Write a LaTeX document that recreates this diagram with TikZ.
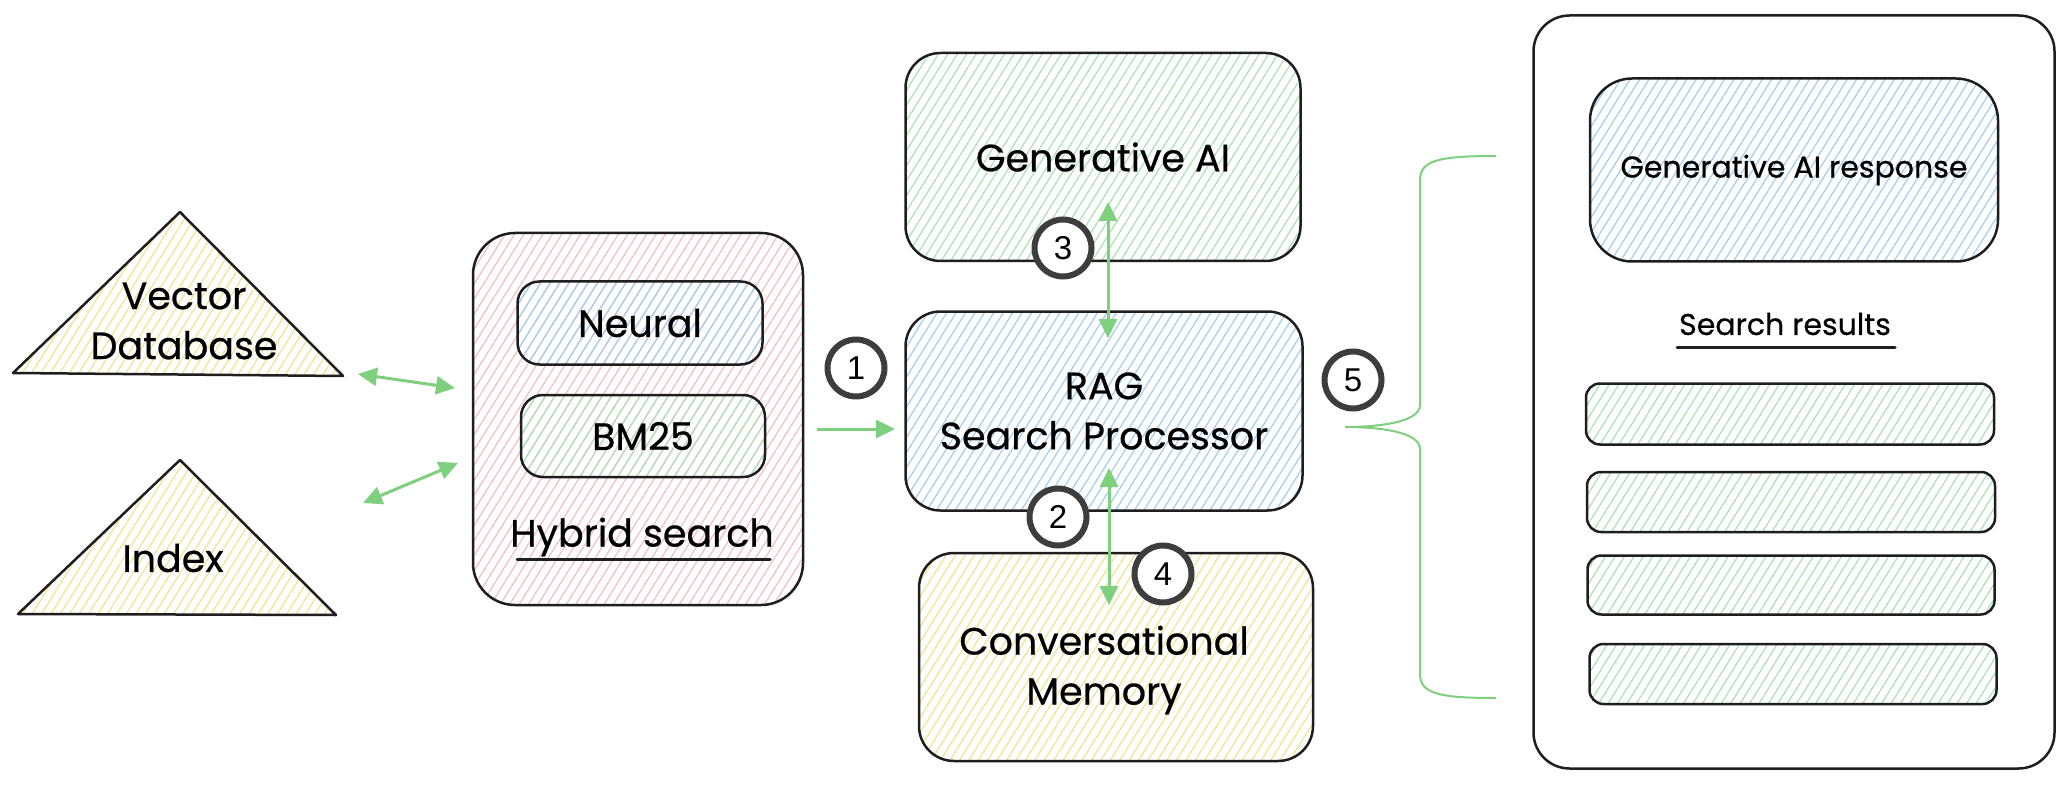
\documentclass[tikz,border=0pt]{standalone}
\usepackage{fontspec}
\setmainfont{Poppins}[FakeBold=0.6]
\newfontfamily\numfont{Liberation Sans}
\usetikzlibrary{arrows.meta,patterns.meta}

\definecolor{inkblack}{HTML}{1E1E1E}
\definecolor{numgray}{HTML}{3D3D3D}
\definecolor{flowgreen}{HTML}{7ECF7E}
\definecolor{hatchgreen}{HTML}{AEE4B4}
\definecolor{hatchblue}{HTML}{A6CFF2}
\definecolor{hatchyellow}{HTML}{F2E497}
\definecolor{hatchpink}{HTML}{F4C0C3}

\newcommand\biglabel{\fontsize{38}{50}\selectfont}
\newcommand\smalllabel{\fontsize{30}{38}\selectfont}

\tikzset{
  sketch/.style={draw=inkblack, line width=2.5pt, rounded corners=#1, inner sep=0pt, align=center, font=\biglabel},
  sketch/.default=35pt,
  hatch/.style={pattern={Lines[angle=58,distance=8pt,line width=1.3pt]}, pattern color=#1},
  tri/.style={draw=inkblack, line width=2.5pt, line join=round},
  txt/.style={inner sep=0pt, align=center, font=\biglabel},
  stepnum/.style={circle, draw=numgray, line width=6pt, fill=white, minimum size=57pt, inner sep=0pt, font=\numfont\fontsize{33}{33}\selectfont},
  flow/.style={draw=flowgreen, line width=3pt, >={Triangle[length=19pt,width=18pt]}},
  fanout/.style={draw=flowgreen, line width=2pt},
  underrule/.style={draw=inkblack, line width=3pt, line cap=round}
}

\begin{document}
\begin{tikzpicture}[x=1pt, y=-1pt]
\useasboundingbox (0,0) rectangle (2066,786);

% Sources
\draw[tri, hatch=hatchyellow] (13,373) -- (180,212) -- (343,376) -- cycle;
\node[txt] (vdb) at (184,321) {Vector\\Database};
\draw[tri, hatch=hatchyellow] (18,614) -- (180,460) -- (336,615) -- cycle;
\node[txt] (index) at (173,558) {Index};

% Hybrid search
\node[sketch=42pt, hatch=hatchpink, minimum width=330pt, minimum height=372pt] (hybrid) at (638,419) {};
\node[sketch=22pt, hatch=hatchblue, minimum width=245pt, minimum height=83pt] (neural) at (640,323) {Neural};
\node[sketch=22pt, hatch=hatchgreen, minimum width=244pt, minimum height=82pt] (bm25) at (643,436) {BM25};
\node[txt] (hyblabel) at (642,537) {Hybrid search};
\draw[underrule] (517,559) -- (770,559);

% Processing
\node[sketch, hatch=hatchgreen, minimum width=395pt, minimum height=208pt] (genai) at (1103,157) {Generative AI};
\node[sketch, hatch=hatchblue, minimum width=397pt, minimum height=199pt] (rag) at (1104,411) {RAG\\Search Processor};
\node[sketch, hatch=hatchyellow, minimum width=394pt, minimum height=208pt] (memory) at (1116,657) {};
\node[txt] (memlabel) at (1104,670) {Conversational\\Memory};

% Results page
\node[sketch=36pt, minimum width=521pt, minimum height=753pt] (panel) at (1794,392) {};
\node[sketch=42pt, hatch=hatchblue, minimum width=408pt, minimum height=183pt, font=\smalllabel] (response) at (1794,170) {Generative AI response};
\node[txt, font=\smalllabel] (srlabel) at (1785,324) {Search results};
\draw[underrule] (1677,347) -- (1895,347);
\node[sketch=14pt, hatch=hatchgreen, minimum width=408pt, minimum height=61pt] (res1) at (1790,414) {};
\node[sketch=14pt, hatch=hatchgreen, minimum width=408pt, minimum height=60pt] (res2) at (1791,502) {};
\node[sketch=14pt, hatch=hatchgreen, minimum width=407pt, minimum height=59pt] (res3) at (1791,585) {};
\node[sketch=14pt, hatch=hatchgreen, minimum width=407pt, minimum height=60pt] (res4) at (1793,674) {};

% Connectors
\coordinate (vdbout) at (358,374);
\coordinate (hybin1) at (455,388);
\coordinate (idxout) at (363,503);
\coordinate (hybin2) at (458,463);
\coordinate (hybout) at (817,429);
\coordinate (ragin) at (895,429);
\coordinate (genaiin) at (1108,202);
\coordinate (ragtop) at (1108,338);
\coordinate (ragbot) at (1109,468);
\coordinate (memin) at (1109,605);
\coordinate (bracetip) at (1345,427);
\coordinate (bracetop) at (1496,156);
\coordinate (bracebot) at (1496,698);
\draw[flow, <->] (vdbout) -- (hybin1);
\draw[flow, <->] (idxout) -- (hybin2);
\draw[flow, ->] (hybout) -- (ragin);
\draw[flow, <->] (genaiin) -- (ragtop);
\draw[flow, <->] (ragbot) -- (memin);
\draw[fanout] (bracetop) .. controls (1440,156) and (1420,160) .. (1420,180) -- (1420,405)
  .. controls (1420,422) and (1380,427) .. (bracetip)
  .. controls (1380,427) and (1420,432) .. (1420,449) -- (1420,674)
  .. controls (1420,694) and (1440,698) .. (bracebot);

% Steps
\node[stepnum] (s1) at (856,368) {1};
\node[stepnum] (s2) at (1058,517) {2};
\node[stepnum] (s3) at (1063,248) {3};
\node[stepnum] (s4) at (1163,574) {4};
\node[stepnum] (s5) at (1353,380) {5};
\end{tikzpicture}
\end{document}
